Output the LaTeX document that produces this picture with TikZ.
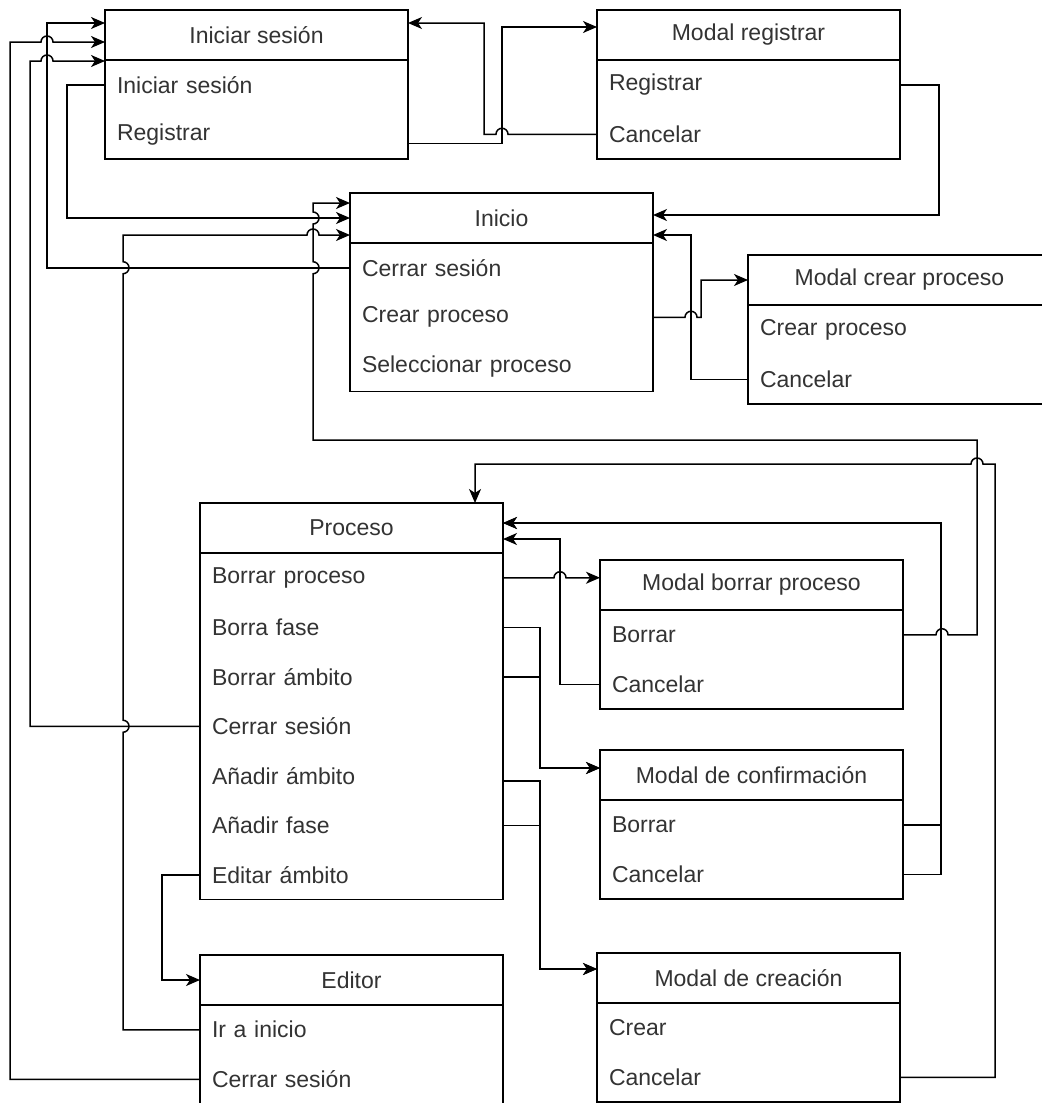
\documentclass[tikz,border=0pt]{standalone}
\usepackage{fontspec}
\setmainfont{Liberation Sans}
\usetikzlibrary{positioning,arrows.meta}

\definecolor{inkgray}{HTML}{333333}

\tikzset{
  screen/.style={draw, minimum width=151.5pt, minimum height=25pt, inner sep=0pt, outer sep=0pt, text=inkgray},
  item/.style={below=0pt of #1, minimum height=24.75pt, text width=139.5pt, inner xsep=6pt, inner ysep=0pt, outer sep=0pt, align=left, text=inkgray},
  link/.style={-{Stealth[length=7pt,width=6pt,inset=2pt]}},
}

\begin{document}
\begin{tikzpicture}[x=0.5pt, y=-0.5pt, line width=0.75pt, every node/.style={font=\fontsize{11.5}{13}\selectfont}]
    \useasboundingbox (0,0) rectangle (1042,1103);
    \clip (0,0) rectangle (1042,1103);
    \fill[white] (0,0) rectangle (1042,1103);

    % pantallas
    \node[screen] (is) at (256.5,35) {Iniciar sesión};
    \node[item=is] (is-1) {Iniciar sesión};
    \node[item=is-1] (is-2) {Registrar};
    \draw (is.south west) rectangle (is-2.south east);

    \node[screen] (mr) at (748.5,35) {Modal registrar};
    \node[item=mr] (mr-1) {Registrar};
    \node[item=mr-1] (mr-2) {Cancelar};
    \draw (mr.south west) rectangle (mr-2.south east);

    \node[screen] (in) at (501.5,218) {Inicio};
    \node[item=in] (in-1) {Cerrar sesión};
    \node[item=in-1] (in-2) {Crear proceso};
    \node[item=in-2] (in-3) {Seleccionar proceso};
    \draw (in.south west) rectangle (in-3.south east);

    \node[screen] (mcp) at (899.5,280) {Modal crear proceso};
    \node[item=mcp] (mcp-1) {Crear proceso};
    \node[item=mcp-1] (mcp-2) {Cancelar};
    \draw (mcp.south west) rectangle (mcp-2.south east);

    \node[screen] (pr) at (351.5,528) {Proceso};
    \node[item=pr] (pr-1) {Borrar proceso};
    \node[item=pr-1] (pr-2) {Borra fase};
    \node[item=pr-2] (pr-3) {Borrar ámbito};
    \node[item=pr-3] (pr-4) {Cerrar sesión};
    \node[item=pr-4] (pr-5) {Añadir ámbito};
    \node[item=pr-5] (pr-6) {Añadir fase};
    \node[item=pr-6] (pr-7) {Editar ámbito};
    \draw (pr.south west) rectangle (pr-7.south east);

    \node[screen] (mbp) at (751.5,585) {Modal borrar proceso};
    \node[item=mbp] (mbp-1) {Borrar};
    \node[item=mbp-1] (mbp-2) {Cancelar};
    \draw (mbp.south west) rectangle (mbp-2.south east);

    \node[screen] (mdcf) at (751.5,775) {Modal de confirmación};
    \node[item=mdcf] (mdcf-1) {Borrar};
    \node[item=mdcf-1] (mdcf-2) {Cancelar};
    \draw (mdcf.south west) rectangle (mdcf-2.south east);

    \node[screen] (mdc) at (748.5,978) {Modal de creación};
    \node[item=mdc] (mdc-1) {Crear};
    \node[item=mdc-1] (mdc-2) {Cancelar};
    \draw (mdc.south west) rectangle (mdc-2.south east);

    \node[screen] (ed) at (351.5,980) {Editor};
    \node[item=ed] (ed-1) {Ir a inicio};
    \node[item=ed-1] (ed-2) {Cerrar sesión};
    \draw (ed.south west) rectangle (ed-2.south east);

    % navegacion
    \draw[link] (is-1.west) -- ++(-38,0) |- (in.west);
    \draw[link] ([yshift=-4.5pt]is-2.east) -- ++(94,0) |- ([yshift=4pt]mr.west);
    \draw[link] (mr-2.west) -- ++(-89,0) arc[start angle=0,end angle=180,radius=3pt] -- ++(-12,0) |- ([yshift=6pt]is.east);
    \draw[link] (mr-1.east) -- ++(39,0) |- ([yshift=1.5pt]in.east);
    \draw[link] (mcp-2.west) -- ++(-57,0) |- ([yshift=-8.5pt]in.east);
    \draw[link] (in-2.east) -- ++(32,0) arc[start angle=180,end angle=0,radius=3pt] -- ++(4,0) |- (mcp.west);
    \draw[link] (in-1.west) -- ++(-303,0) |- ([yshift=6pt]is.west);
    \draw[link] (ed-2.west) -- ++(-190,0) |- (41,42) arc[start angle=180,end angle=0,radius=3pt] -- ([yshift=-3.5pt]is.west);
    \draw[link] (pr-4.west) -- ++(-170,0) |- (41,61) arc[start angle=180,end angle=0,radius=3pt] -- ([yshift=-13pt]is.west);
    \draw[link] (ed-1.west) -- ++(-77,0) -- (123,732.25) arc[start angle=-90,end angle=90,radius=3pt]
        -- (123,273.75) arc[start angle=-90,end angle=90,radius=3pt]
        -- (123,235) -- (307,235) arc[start angle=180,end angle=0,radius=3pt] -- ([yshift=-8.5pt]in.west);
    \draw[link] (mbp-1.east) -- (936,634.75) arc[start angle=180,end angle=0,radius=3pt] -- (977,634.75) -- (977,440)
        -- (313,440) -- (313,273.75) arc[start angle=-90,end angle=90,radius=3pt]
        -- (313,224) arc[start angle=-90,end angle=90,radius=3pt] -- (313,203) -- ([yshift=7.5pt]in.west);
    \draw[link] (mdc-2.east) -- ++(95,0) |- (983,464) arc[start angle=0,end angle=180,radius=3pt] -| ([xshift=-14pt]pr.north east);
    \draw[link] (pr-1.east) -- (554,577.75) arc[start angle=180,end angle=0,radius=3pt] -- (mbp.west |- pr-1.east);
    \draw[link] (mbp-2.west) -- ++(-40,0) |- ([yshift=-5.5pt]pr.east);
    \draw[link] (mdcf-1.east) -- ++(38,0) |- ([yshift=2.5pt]pr.east);
    \draw[link] (mdcf-2.east) -- ++(38,0) |- ([yshift=2.5pt]pr.east);
    \draw[link] (pr-2.east) -- ++(37,0) |- ([yshift=3.5pt]mdcf.west);
    \draw[link] (pr-3.east) -- ++(37,0) |- ([yshift=3.5pt]mdcf.west);
    \draw[link] ([yshift=-2.5pt]pr-5.east) -- ++(37,0) |- ([yshift=4.5pt]mdc.west);
    \draw[link] (pr-6.east) -- ++(37,0) |- ([yshift=4.5pt]mdc.west);
    \draw[link] (pr-7.west) -- ++(-38,0) |- (ed.west);
\end{tikzpicture}
\end{document}
